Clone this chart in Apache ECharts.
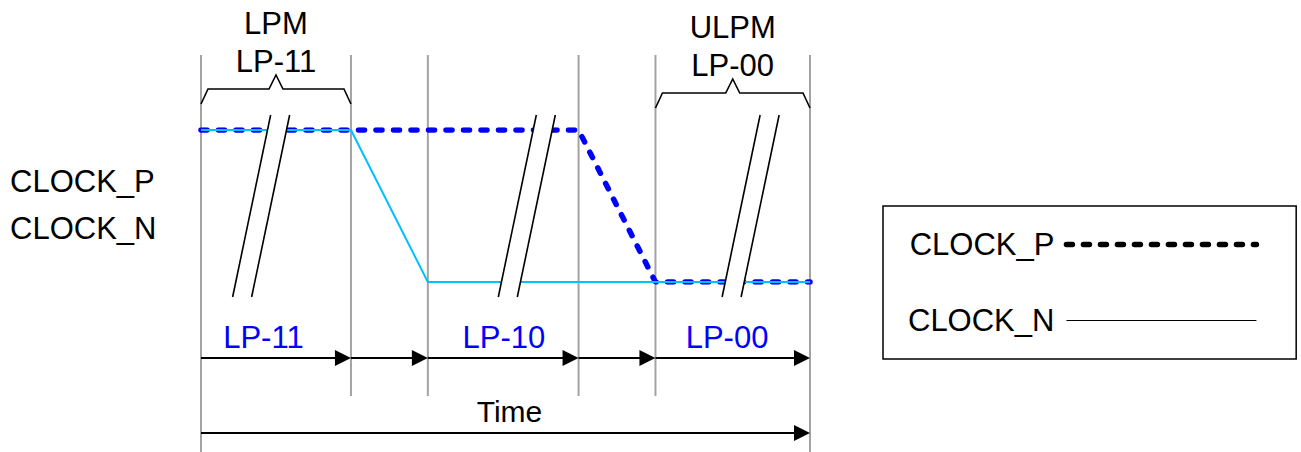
<!DOCTYPE html>
<html>
<head>
<meta charset="utf-8">
<title>Clock lane LP states</title>
<script src="https://cdn.jsdelivr.net/npm/echarts@6/dist/echarts.min.js"></script>
<style>
  html, body { margin: 0; padding: 0; background: #fff; }
  #chart { width: 1301px; height: 452px; }
</style>
</head>
<body>
<div id="chart"></div>
<script>
// time axis: boundaries between line states
const stateEdges = [0, 1.97, 2.98, 4.96, 5.97, 8];
const stateNames = ['LP-11', 'LP-10', 'LP-00'];
const stateLabelTimes = [0.82, 3.98, 6.91];

// line levels (V)
const clockPTime = [0, 4.96, 5.97, 8];
const clockPLevel = [1.2, 1.2, 0, 0];
const clockNTime = [0, 1.97, 2.98, 8];
const clockNLevel = [1.2, 1.2, 0, 0];

// power modes shown with braces
const modeTitles = [['LPM', 'LP-11'], ['ULPM', 'LP-00']];
const modeStart = [0, 5.97];
const modeEnd = [1.97, 8];

// where the time axis is broken (//)
const breakTimes = [0.79, 4.28, 7.22];

const FONT = '"Liberation Sans", Arial, Helvetica, sans-serif';
const chart = echarts.init(document.getElementById('chart'), null, { renderer: 'svg' });

function pairs(xs, ys) {
    return xs.map((x, i) => [x, ys[i]]);
}

function arrow(x1, x2, y) {
    return [
        { type: 'line', shape: { x1: x1, y1: y, x2: x2 - 12, y2: y }, style: { stroke: '#000', lineWidth: 2 } },
        { type: 'polygon', shape: { points: [[x2, y], [x2 - 16, y - 8], [x2 - 16, y + 8]] }, style: { fill: '#000' } }
    ];
}

const option = {
    animation: false,
    backgroundColor: '#fff',
    grid: { left: 201, right: 491, top: 130, bottom: 170, containLabel: false, outerBoundsMode: 'none' },
    xAxis: { type: 'value', min: 0, max: 8, show: false },
    yAxis: { type: 'value', min: 0, max: 1.2, show: false },
    legend: {
        orient: 'vertical',
        left: 883,
        top: 206,
        align: 'right',
        itemWidth: 190,
        itemHeight: 14,
        itemGap: 45,
        padding: [23, 37, 23, 25],
        borderColor: '#000',
        borderWidth: 1.5,
        selectedMode: false,
        textStyle: { fontSize: 31, color: '#000', fontFamily: FONT, padding: [0, 7, 0, 0] },
        itemStyle: { opacity: 0 },
        data: [
            { name: 'CLOCK_P', lineStyle: { color: '#000', width: 5.5, type: [6, 11], cap: 'round' } },
            { name: 'CLOCK_N', lineStyle: { color: '#000', width: 1.2, type: 'solid' } }
        ]
    },
    graphic: [
        { type: 'text', left: 10, top: 166, style: { text: 'CLOCK_P', fontSize: 31, fontFamily: FONT, fill: '#000' } },
        { type: 'text', left: 10, top: 213, style: { text: 'CLOCK_N', fontSize: 31, fontFamily: FONT, fill: '#000' } }
    ],
    series: [
        {
            // gray state boundaries
            type: 'custom',
            silent: true,
            z: 1,
            data: stateEdges.map(t => [t, 0]),
            renderItem: function (params, api) {
                const x = api.coord([api.value(0), 0])[0];
                const yHigh = api.coord([0, 1.2])[1];
                const yLow = api.coord([0, 0])[1];
                const outer = params.dataIndex === 0 || params.dataIndex === stateEdges.length - 1;
                return {
                    type: 'line',
                    shape: { x1: x, y1: yHigh - 75, x2: x, y2: outer ? api.getHeight() : yLow + 114 },
                    style: { stroke: '#a3a3a3', lineWidth: 2 }
                };
            }
        },
        {
            name: 'CLOCK_P',
            type: 'line',
            z: 3,
            silent: true,
            symbol: 'none',
            data: pairs(clockPTime, clockPLevel),
            lineStyle: { color: '#0000ff', width: 5.5, type: [6, 11.5], cap: 'round' }
        },
        {
            name: 'CLOCK_N',
            type: 'line',
            z: 4,
            silent: true,
            symbol: 'none',
            data: pairs(clockNTime, clockNLevel),
            lineStyle: { color: '#00c0ff', width: 2 }
        },
        {
            // axis breaks
            type: 'custom',
            silent: true,
            z: 5,
            data: breakTimes.map(t => [t, 0.6]),
            renderItem: function (params, api) {
                const xc = api.coord([api.value(0), 0.6])[0];
                const yt = api.coord([0, 1.2])[1] - 15;
                const yb = api.coord([0, 0])[1] + 15;
                return {
                    type: 'group',
                    children: [
                        { type: 'polygon', shape: { points: [[xc + 9.5, yt], [xc + 28.5, yt], [xc - 9.5, yb], [xc - 28.5, yb]] }, style: { fill: '#fff' } },
                        { type: 'line', shape: { x1: xc + 9.5, y1: yt, x2: xc - 28.5, y2: yb }, style: { stroke: '#000', lineWidth: 1.6 } },
                        { type: 'line', shape: { x1: xc + 28.5, y1: yt, x2: xc - 9.5, y2: yb }, style: { stroke: '#000', lineWidth: 1.6 } }
                    ]
                };
            }
        },
        {
            // mode braces with titles
            type: 'custom',
            silent: true,
            z: 5,
            data: pairs(modeStart, modeEnd),
            renderItem: function (params, api) {
                const x0 = api.coord([api.value(0), 0])[0];
                const x1 = api.coord([api.value(1), 0])[0];
                const xm = (x0 + x1) / 2;
                const drop = params.dataIndex === 1 ? 4 : 0;
                const yb = api.coord([0, 1.2])[1] - 41 + drop;
                const titles = modeTitles[params.dataIndex];
                return {
                    type: 'group',
                    children: [
                        {
                            type: 'polyline',
                            shape: { points: [[x0, yb + 15], [x0 + 7, yb], [xm - 7, yb], [xm, yb - 14], [xm + 7, yb], [x1 - 7, yb], [x1, yb + 15]] },
                            style: { stroke: '#000', lineWidth: 1.6, fill: null }
                        },
                        { type: 'text', style: { text: titles[0], x: xm, y: yb - 66, align: 'center', verticalAlign: 'middle', fontSize: 31, fontFamily: FONT, fill: '#000' } },
                        { type: 'text', style: { text: titles[1], x: xm, y: yb - 28, align: 'center', verticalAlign: 'middle', fontSize: 31, fontFamily: FONT, fill: '#000' } }
                    ]
                };
            }
        },
        {
            // per-state arrows with labels
            type: 'custom',
            silent: true,
            z: 5,
            data: stateEdges.slice(0, -1).map((t, i) => [t, stateEdges[i + 1]]),
            renderItem: function (params, api) {
                const x0 = api.coord([api.value(0), 0])[0];
                const x1 = api.coord([api.value(1), 0])[0];
                const y = api.coord([0, 0])[1] + 76;
                const children = arrow(x0, x1, y);
                const k = params.dataIndex / 2;
                if (params.dataIndex % 2 === 0) {
                    const xl = api.coord([stateLabelTimes[k], 0])[0];
                    children.push({ type: 'text', style: { text: stateNames[k], x: xl, y: y - 21, align: 'center', verticalAlign: 'middle', fontSize: 31, fontFamily: FONT, fill: '#0000ff' } });
                }
                return { type: 'group', children: children };
            }
        },
        {
            // overall time arrow
            type: 'custom',
            silent: true,
            z: 5,
            data: [[stateEdges[0], stateEdges[stateEdges.length - 1]]],
            renderItem: function (params, api) {
                const x0 = api.coord([api.value(0), 0])[0];
                const x1 = api.coord([api.value(1), 0])[0];
                const y = api.coord([0, 0])[1] + 151;
                const children = arrow(x0, x1, y);
                children.push({ type: 'text', style: { text: 'Time', x: (x0 + x1) / 2 + 4, y: y - 22, align: 'center', verticalAlign: 'middle', fontSize: 30, fontFamily: FONT, fill: '#000' } });
                return { type: 'group', children: children };
            }
        }
    ]
};

chart.setOption(option);

window.addEventListener('resize', function () {
    chart.resize();
});
</script>
</body>
</html>
